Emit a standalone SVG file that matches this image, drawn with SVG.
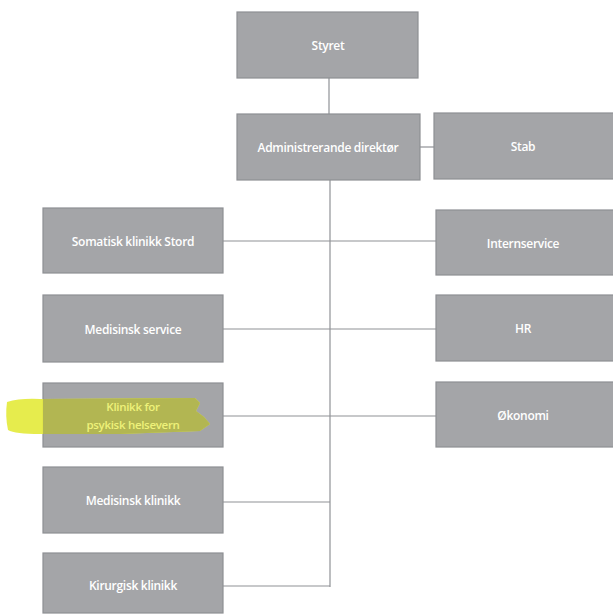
<svg xmlns="http://www.w3.org/2000/svg" width="613" height="616" viewBox="0 0 613 616">
<style>
.box{fill:#a4a5a8;stroke:#8e8f93;stroke-width:1.2}
.lbl{font-family:"Open Sans","Liberation Sans",sans-serif;font-size:12px;font-weight:600;fill:#ffffff;text-anchor:middle;dominant-baseline:central;letter-spacing:-0.3px}
.conn{stroke:#8f9296;stroke-width:1.2;fill:none}
</style>
<rect width="613" height="616" fill="#ffffff"/>
<g id="connectors">
<line class="conn" x1="329" y1="78" x2="329" y2="114"/>
<line class="conn" x1="330" y1="180" x2="330" y2="587"/>
<line class="conn" x1="420" y1="147" x2="435" y2="147"/>
<line class="conn" x1="223" y1="241" x2="436" y2="241"/>
<line class="conn" x1="223" y1="329" x2="436" y2="329"/>
<line class="conn" x1="223" y1="416" x2="436" y2="416"/>
<line class="conn" x1="223" y1="502" x2="330" y2="502"/>
<line class="conn" x1="223" y1="586" x2="330" y2="586"/>
</g>
<g id="styret"><rect class="box" x="237" y="12" width="181" height="66"/><text class="lbl" x="328" y="45">Styret</text></g>
<g id="admdir"><rect class="box" x="237" y="114" width="183" height="66"/><text class="lbl" x="328" y="147">Administrerande direktør</text></g>
<g id="stab"><rect class="box" x="434" y="113" width="185" height="66"/><text class="lbl" x="523" y="146">Stab</text></g>
<g id="internservice"><rect class="box" x="436" y="210" width="183" height="65"/><text class="lbl" x="523" y="243">Internservice</text></g>
<g id="hr"><rect class="box" x="436" y="295" width="183" height="66"/><text class="lbl" x="523" y="328">HR</text></g>
<g id="okonomi"><rect class="box" x="436" y="382" width="183" height="65"/><text class="lbl" x="523" y="415">Økonomi</text></g>
<g id="somatisk"><rect class="box" x="43" y="208" width="180" height="65"/><text class="lbl" x="133" y="241">Somatisk klinikk Stord</text></g>
<g id="medservice"><rect class="box" x="43" y="295" width="180" height="67"/><text class="lbl" x="133" y="329">Medisinsk service</text></g>
<g id="psykisk"><rect class="box" x="43" y="383" width="180" height="64"/>
<path d="M7,402 Q20,398 40,399 L195,398 L200,403 L196,411 L204,417 L210,424 L200,431 L120,434 L40,434 Q15,434 8,430 Q5,416 7,402 Z" fill="#e4ea3e" opacity="0.92"/>
<path d="M43,399 L195,398 L200,403 L196,411 L204,417 L210,424 L200,431 L120,434 L43,434 Z" fill="#b2b652"/>
<text class="lbl" x="133" y="406" style="fill:#eef27a;font-size:11.5px">Klinikk for</text><text class="lbl" x="133" y="424" style="fill:#eef27a;font-size:11.5px">psykisk helsevern</text></g>
<g id="medklinikk"><rect class="box" x="43" y="467" width="180" height="66"/><text class="lbl" x="133" y="500">Medisinsk klinikk</text></g>
<g id="kirurgisk"><rect class="box" x="43" y="553" width="180" height="60"/><text class="lbl" x="133" y="585">Kirurgisk klinikk</text></g>
</svg>
